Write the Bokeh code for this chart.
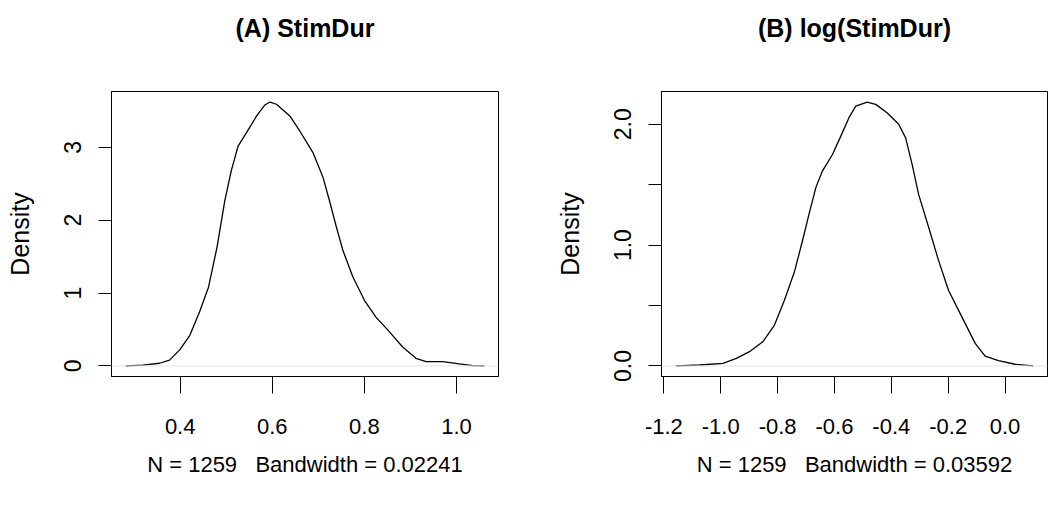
from bokeh.plotting import figure
from bokeh.layouts import row
from bokeh.models import Range1d, FixedTicker, PrintfTickFormatter, Span, LinearAxis
from bokeh.embed import file_html
from bokeh.resources import INLINE

# ---- Data ----
# Panel A: density of StimDur
stim_x = [0.282, 0.319, 0.355, 0.377, 0.399, 0.421, 0.442, 0.4615, 0.480, 0.497,
          0.511, 0.526, 0.544, 0.566, 0.584, 0.595, 0.609, 0.638, 0.660, 0.688,
          0.710, 0.724, 0.739, 0.753, 0.775, 0.800, 0.825, 0.854, 0.883, 0.912,
          0.934, 0.970, 1.006, 1.035, 1.060]
stim_y = [0.0, 0.01, 0.037, 0.08, 0.22, 0.42, 0.74, 1.08, 1.63, 2.27,
          2.68, 3.02, 3.20, 3.43, 3.58, 3.62, 3.59, 3.43, 3.22, 2.93,
          2.59, 2.27, 1.91, 1.59, 1.22, 0.90, 0.67, 0.47, 0.26, 0.105,
          0.06, 0.06, 0.027, 0.005, 0.0]

# Panel B: density of log(StimDur)
log_x = [-1.158, -1.074, -0.992, -0.945, -0.899, -0.852, -0.811, -0.776, -0.741, -0.712,
         -0.689, -0.665, -0.642, -0.607, -0.578, -0.549, -0.525, -0.485, -0.455, -0.415,
         -0.374, -0.350, -0.327, -0.304, -0.269, -0.234, -0.199, -0.152, -0.105, -0.070,
         -0.023, 0.035, 0.099]
log_y = [0.0, 0.008, 0.022, 0.063, 0.118, 0.20, 0.338, 0.544, 0.777, 1.04,
         1.26, 1.48, 1.615, 1.75, 1.90, 2.055, 2.15, 2.184, 2.165, 2.096,
         2.0, 1.89, 1.67, 1.42, 1.15, 0.874, 0.626, 0.406, 0.187, 0.082,
         0.044, 0.014, 0.0]

titles = ["(A) StimDur", "(B) log(StimDur)"]
NB = "\u00a0"
xlabels = ["N = 1259" + NB + NB + " Bandwidth = 0.02241",
           "N = 1259" + NB + NB + " Bandwidth = 0.03592"]
stim_xticks = [0.4, 0.6, 0.8, 1.0]
log_xticks = [-1.2, -1.0, -0.8, -0.6, -0.4, -0.2, 0.0]
stim_yticks = [0, 1, 2, 3]
log_yticks = [0.0, 1.0, 2.0]
log_yminor = [0.5, 1.5]

FONT = "Liberation Sans"


def padded(vals):
    lo, hi = min(vals), max(vals)
    pad = 0.04 * (hi - lo)
    return Range1d(lo - pad, hi + pad)


def panel(xs, ys, title, xlab, xticks, yticks, yminor, yfmt, bl, br):
    p = figure(width=525, height=508, output_backend="svg", toolbar_location=None,
               x_range=padded(xs), y_range=padded(ys),
               min_border_left=bl, min_border_right=br,
               min_border_top=91, min_border_bottom=132)
    p.grid.visible = False
    p.outline_line_color = "black"
    p.outline_line_width = 1
    p.outline_line_alpha = 1
    p.background_fill_color = "white"
    p.border_fill_color = "white"

    p.add_layout(Span(location=0, dimension="width", line_color="#e4e4e4", line_width=1))
    p.line(xs, ys, line_color="black", line_width=1.3, line_join="round")

    xa = p.below[0]
    xa.ticker = FixedTicker(ticks=xticks)
    xa.formatter = PrintfTickFormatter(format="%.1f")
    xa.axis_label = xlab
    xa.axis_label_text_font = FONT
    xa.axis_label_text_font_size = "22px"
    xa.axis_label_text_font_style = "normal"
    xa.axis_label_text_color = "black"
    xa.axis_label_standoff = 15
    xa.major_label_text_font = FONT
    xa.major_label_text_font_size = "22px"
    xa.major_label_text_color = "black"
    xa.major_label_standoff = 25
    xa.major_tick_out = 17
    xa.major_tick_in = 0
    xa.minor_tick_out = 0
    xa.minor_tick_in = 0
    xa.axis_line_color = "black"
    xa.major_tick_line_color = "black"

    ya = p.left[0]
    ya.ticker = FixedTicker(ticks=yticks, minor_ticks=yminor)
    ya.formatter = PrintfTickFormatter(format=yfmt)
    ya.axis_label = "Density"
    ya.axis_label_text_font = FONT
    ya.axis_label_text_font_size = "25px"
    ya.axis_label_text_font_style = "normal"
    ya.axis_label_text_color = "black"
    ya.axis_label_standoff = 28
    ya.major_label_text_font = FONT
    ya.major_label_text_font_size = "23px"
    ya.major_label_text_color = "black"
    ya.major_label_orientation = "parallel"
    ya.major_label_standoff = 17
    ya.major_tick_out = 13
    ya.major_tick_in = 0
    ya.minor_tick_out = 13 if yminor else 0
    ya.minor_tick_in = 0
    ya.minor_tick_line_color = "black"
    ya.axis_line_color = "black"
    ya.major_tick_line_color = "black"

    # main title, drawn as the label of a bare axis above the frame
    top = LinearAxis(ticker=FixedTicker(ticks=[]), axis_label=title)
    top.axis_line_color = None
    top.major_tick_line_color = None
    top.minor_tick_line_color = None
    top.major_label_text_font_size = "0px"
    top.major_tick_out = 0
    top.major_tick_in = 0
    top.minor_tick_out = 0
    top.minor_tick_in = 0
    top.major_label_standoff = 0
    top.axis_label_standoff = 50
    top.axis_label_text_font = FONT
    top.axis_label_text_font_size = "25px"
    top.axis_label_text_font_style = "bold"
    top.axis_label_text_color = "black"
    p.add_layout(top, "above")
    return p


pA = panel(stim_x, stim_y, titles[0], xlabels[0], stim_xticks, stim_yticks, [], "%d", 111, 27)
pB = panel(log_x, log_y, titles[1], xlabels[1], log_xticks, log_yticks, log_yminor, "%.1f", 136, 3)

layout = row(pA, pB)
open("out.html", "w").write(file_html(layout, INLINE))
